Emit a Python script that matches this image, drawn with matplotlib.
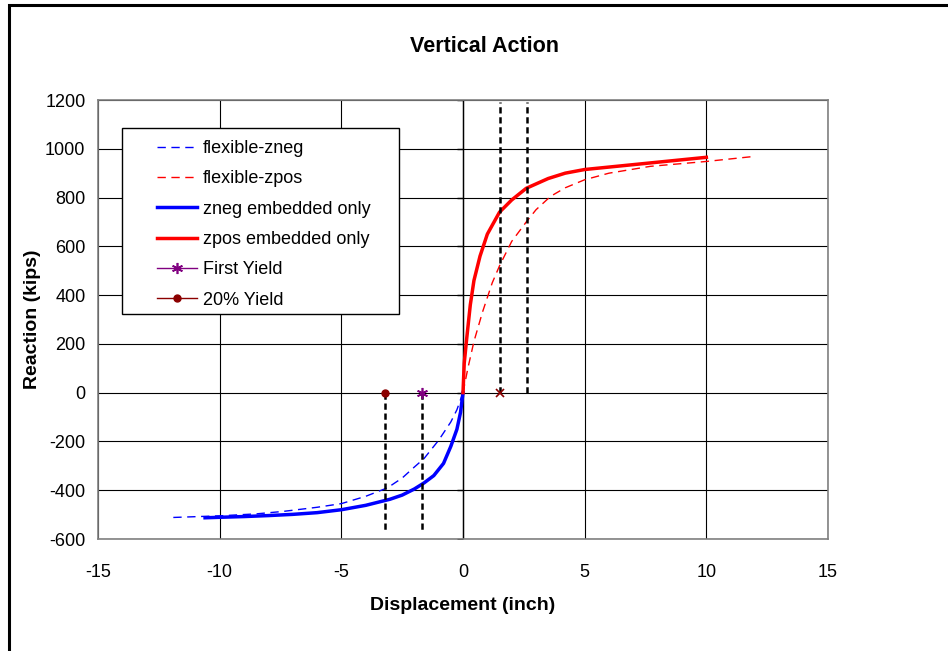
import numpy as np
import matplotlib.pyplot as plt
from matplotlib.patches import Rectangle

plt.rcParams['font.family'] = ['Liberation Sans', 'DejaVu Sans']
plt.rcParams['axes.unicode_minus'] = False

# Daten
flex_zneg_x = [0, -0.25, -0.5, -1, -1.6, -2, -2.5, -3.1, -4, -5, -6, -7.4, -8.5, -10, -12]
flex_zneg_y = [0, -70, -120, -195, -270, -305, -350, -390, -425, -455, -470, -487, -497, -505, -512]

flex_zpos_x = [0, 0.2, 0.45, 0.8, 1.2, 1.5, 2.0, 2.6, 3.0, 3.6, 4.2, 5, 6, 7.7, 10, 11.9]
flex_zpos_y = [0, 100, 210, 330, 450, 520, 620, 700, 750, 805, 840, 873, 900, 928, 948, 968]

zneg_x = [0, -0.1, -0.25, -0.5, -0.8, -1.2, -1.6, -2.0, -2.5, -3.0, -4.0, -5.0, -6, -7, -8, -9, -10, -10.6]
zneg_y = [0, -80, -150, -220, -290, -340, -370, -395, -420, -437, -462, -480, -492, -499, -504, -508, -511, -513]

zpos_x = [0, 0.05, 0.15, 0.3, 0.45, 0.7, 1.0, 1.5, 2.0, 2.6, 3.5, 4.2, 5, 6, 7, 8, 9, 10]
zpos_y = [0, 120, 220, 360, 460, 560, 650, 740, 790, 838, 878, 900, 915, 925, 935, 945, 955, 965]

first_yield_x = [-1.7]
yield20_x = [-3.2]
pos_yield_x = [1.5]

neg_lines_x = [-3.2, -1.7]
pos_lines_x = [1.5, 2.63]
neg_line_bottom = -575
pos_line_top = 1190

xticks = np.arange(-15, 16, 5)
yticks = np.arange(-600, 1201, 200)

# Grafik
fig = plt.figure(figsize=(9.48, 6.51), dpi=100)
ax = fig.add_axes([98/948, 1-539/651, 730/948, 439/651])

# Rahmen um die ganze Grafik
fig.patches.append(Rectangle((9/948, -0.1), 1.2, 1.1 - 5/651, transform=fig.transFigure,
                             fill=False, ec='k', lw=2.2))

ax.set_xlim(-15, 15)
ax.set_ylim(-600, 1200)
ax.set_xticks(xticks)
ax.set_yticks(yticks)
ax.tick_params(axis='x', length=0, labelsize=13, pad=18)
ax.tick_params(axis='y', length=0, labelsize=13, pad=9)
for s in ax.spines.values():
    s.set_color('#808080')
    s.set_linewidth(1.2)

# Gitter
ax.grid(color='k', lw=0.8, zorder=0)
ax.axvline(0, color='k', lw=1.0, zorder=1)
ax.plot(np.zeros(len(yticks)), yticks, ls='', marker=0, ms=4, mew=1, color='k', zorder=1)

# Kurven
ax.plot(flex_zneg_x, flex_zneg_y, color='blue', lw=1.0, ls=(0, (6, 4)), label='flexible-zneg', zorder=3)
ax.plot(flex_zpos_x, flex_zpos_y, color='red', lw=1.0, ls=(0, (6, 4)), label='flexible-zpos', zorder=3)
ax.plot(zneg_x, zneg_y, color='blue', lw=2.5, label='zneg embedded only', zorder=4)
ax.plot(zpos_x, zpos_y, color='red', lw=2.5, label='zpos embedded only', zorder=4)

# Fliessgrenzen
for xv in neg_lines_x:
    ax.plot([xv, xv], [0, neg_line_bottom], color='k', lw=1.8, ls=(0, (2.5, 1.5)), zorder=5)
for xv in pos_lines_x:
    ax.plot([xv, xv], [0, pos_line_top], color='k', lw=1.8, ls=(0, (2.5, 1.5)), zorder=5)

ax.plot(first_yield_x, [0], color='purple', lw=1, marker=(6, 2, 0), ms=8, mew=1.2,
        label='First Yield', zorder=6)
ax.plot(yield20_x, [0], color='darkred', lw=1, marker='o', ms=5, label='20% Yield', zorder=6)
ax.plot(pos_yield_x, [0], ls='', color='darkred', marker='x', ms=6, mew=1.2, zorder=6)

# Legende: Kasten separat, Inhalt ohne Rahmen
ax.add_patch(Rectangle((24/730, 1-214/439), 277/730, 186/439, transform=ax.transAxes,
                       fc='white', ec='k', lw=1.0, zorder=9))
leg = ax.legend(loc='upper left', bbox_to_anchor=(59/730, 1-40/439), fontsize=13,
                frameon=False, labelspacing=0.74, handlelength=2.2, handletextpad=0.35,
                borderpad=0, borderaxespad=0)
leg.set_zorder(10)

ax.set_title('Vertical Action', fontsize=15.5, fontweight='bold', pad=34.5, x=(485-98)/730)
ax.set_xlabel('Displacement (inch)', fontsize=14, fontweight='bold', labelpad=11.5)
ax.set_ylabel('Reaction (kips)', fontsize=14, fontweight='bold', labelpad=3)

fig.savefig('out.png', dpi=100)
